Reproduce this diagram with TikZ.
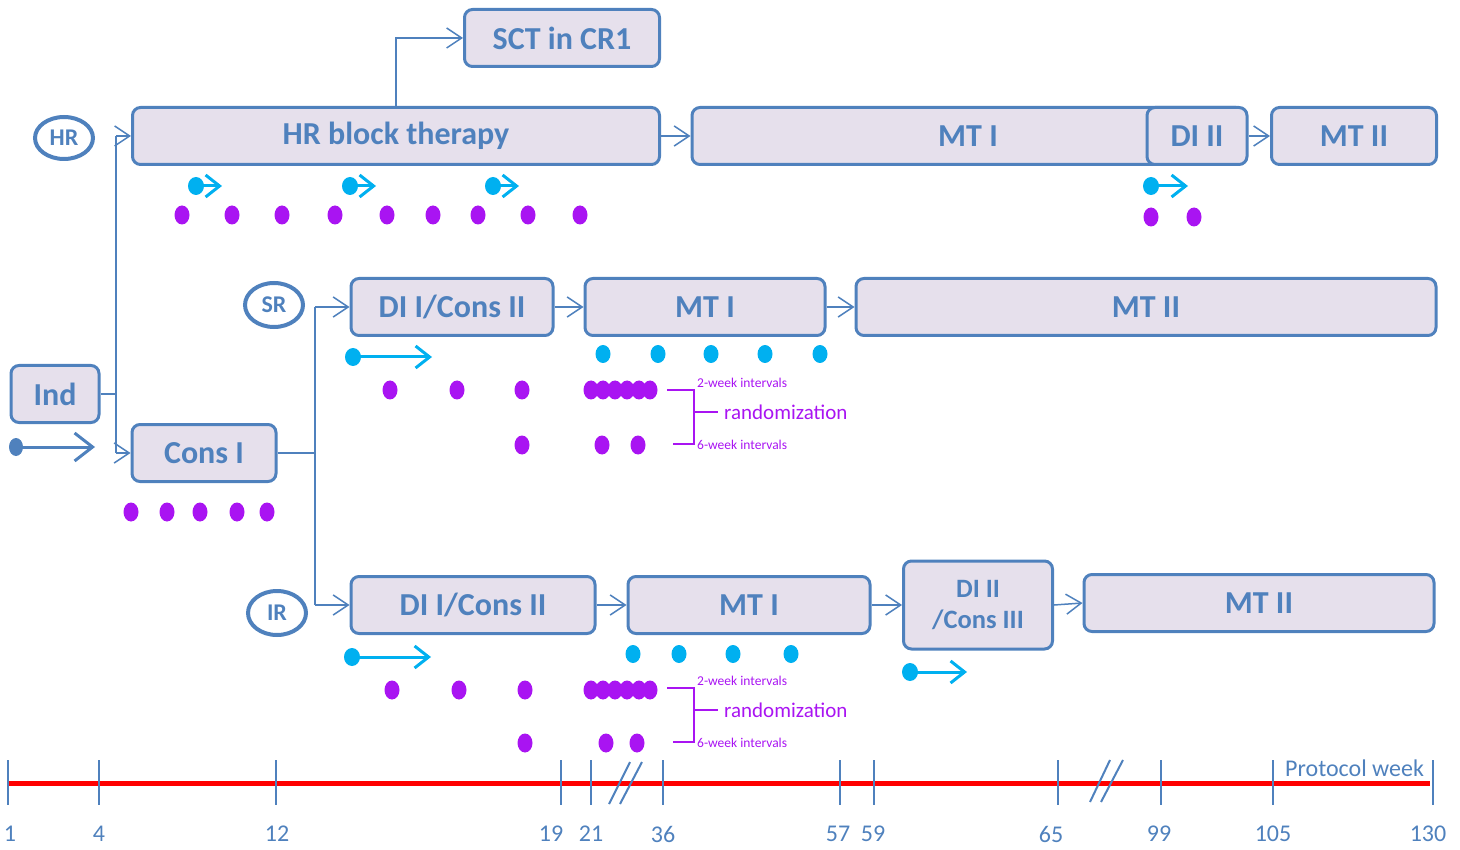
\documentclass[tikz,border=0pt]{standalone}
\usepackage{fontspec}
\setmainfont{Carlito}
\usetikzlibrary{arrows.meta,shapes.geometric}
\definecolor{bxblue}{HTML}{4F81BD}
\definecolor{bxfill}{HTML}{E6E0EC}
\definecolor{dcyan}{HTML}{00B0F0}
\definecolor{dpurple}{HTML}{A914F2}

\begin{document}
\begin{tikzpicture}[x=1pt, y=-1pt,
    phase/.style={draw=bxblue, fill=bxfill, line width=3pt, rounded corners=8pt, text=bxblue,
        font=\fontsize{32}{36}\selectfont\bfseries, minimum height=57pt, inner sep=0pt},
    risk/.style={ellipse, draw=bxblue, line width=4pt, text=bxblue,
        font=\fontsize{24}{28}\selectfont\bfseries, minimum width=58pt, minimum height=42pt, inner sep=0pt},
    conn/.style={draw=bxblue, line width=1.5pt},
    arr/.style={conn, -{Straight Barb[length=15pt,width=20pt]}},
    dosearr/.style={draw=dcyan, line width=3pt, -{Straight Barb[length=14pt,width=22pt]}},
    pdot/.style={fill=dpurple},
    cdot/.style={fill=dcyan},
    brace/.style={draw=dpurple, line width=2pt},
    small/.style={text=dpurple, font=\fontsize{13.5}{15}\selectfont, inner sep=0pt, anchor=west},
    tick/.style={draw=bxblue, line width=2pt},
    wk/.style={text=bxblue, font=\fontsize{24}{28}\selectfont, inner sep=0pt}]
    \useasboundingbox (0,0) rectangle (1460,850);

    \node[phase, minimum width=195pt] (sct) at (562,38) {SCT in CR1};
    \node[phase, minimum width=527pt] (hrb) at (396,136) {HR block therapy};
    \node[phase, minimum width=552pt] (mt1h) at (968,136) {MT I};
    \node[phase, minimum width=100pt] (di2h) at (1197,136) {DI II};
    \node[phase, minimum width=165pt] (mt2h) at (1354,136) {MT II};
    \node[risk] (hr) at (64,138) {HR};

    \node[phase, minimum width=88pt] (ind) at (55,394) {Ind};
    \node[phase, minimum width=144pt] (cons) at (204,453) {Cons I};

    \node[risk, minimum height=44pt] (sr) at (274,305) {SR};
    \node[phase, minimum width=202pt] (di1s) at (452,307) {DI I/Cons II};
    \node[phase, minimum width=240pt] (mt1s) at (705,307) {MT I};
    \node[phase, minimum width=580pt] (mt2s) at (1146,307) {MT II};

    \node[risk, minimum height=44pt] (ir) at (277,613) {IR};
    \node[phase, minimum width=244pt] (di1i) at (473,605) {DI I/Cons II};
    \node[phase, minimum width=242pt] (mt1i) at (749,605) {MT I};
    \node[phase, minimum width=149pt, minimum height=88pt, align=center,
        font=\fontsize{26.5}{31}\selectfont\bfseries] (di2i) at (978,605) {DI II\\/Cons III};
    \node[phase, minimum width=350pt] (mt2i) at (1259,603) {MT II};

    \coordinate (indfork) at (116,394);
    \coordinate (hrfork) at (116,136);
    \coordinate (consfork) at (116,453);
    \coordinate (sctbend) at (396,38);
    \coordinate (mainfork) at (315,453);
    \coordinate (srfork) at (315,307);
    \coordinate (irfork) at (315,605);

    \draw[conn] (ind.east) -- (indfork);
    \draw[conn] (hrfork) -- (consfork);
    \draw[arr] (hrfork) -- (hrb.west);
    \draw[arr] (consfork) -- (cons.west);
    \draw[arr] (hrb.north) -- (sctbend) -- (sct.west);
    \draw[arr] (hrb.east) -- (mt1h.west);
    \draw[arr] (di2h.east) -- (mt2h.west);
    \draw[conn] (cons.east) -- (mainfork);
    \draw[conn] (srfork) -- (irfork);
    \draw[arr] (srfork) -- (di1s.west);
    \draw[arr] (irfork) -- (di1i.west);
    \draw[arr] (di1s.east) -- (mt1s.west);
    \draw[arr] (mt1s.east) -- (mt2s.west);
    \draw[arr] (di1i.east) -- (mt1i.west);
    \draw[arr] (mt1i.east) -- (di2i.west);
    \draw[arr] (di2i.east) -- (mt2i.west);

    \fill[bxblue] (16,447) ellipse (7pt and 9pt);
    \draw[draw=bxblue, line width=3pt, -{Straight Barb[length=18pt,width=28pt]}] (16,447) -- (95,447);
    \foreach \x/\y/\e in {196/186/222, 350/186/376, 493/186/519, 1151/186/1188,
        353/357/432, 352/657/431, 910/672/967} {
        \fill[cdot] (\x,\y) ellipse (8pt and 9pt);
        \draw[dosearr] (\x,\y) -- (\e,\y);
    }

    \foreach \x in {603,658,711,765,820} \fill[cdot] (\x,354) ellipse (7.5pt and 9pt);
    \foreach \x in {633,679,733,791} \fill[cdot] (\x,654) ellipse (7.5pt and 9pt);

    \foreach \x in {182,232,282,335,387,433,478,528,580} \fill[pdot] (\x,215) ellipse (7.5pt and 9.5pt);
    \foreach \x in {1151,1194} \fill[pdot] (\x,217) ellipse (7.5pt and 9.5pt);
    \foreach \x in {131,167,200,237,267} \fill[pdot] (\x,512) ellipse (7.5pt and 9.5pt);
    \foreach \x in {390,457,522,591,603,615,627,639,650} \fill[pdot] (\x,390) ellipse (7.5pt and 9.5pt);
    \foreach \x in {522,602,638} \fill[pdot] (\x,445) ellipse (7.5pt and 9.5pt);
    \foreach \x in {392,459,525,591,603,615,627,639,650} \fill[pdot] (\x,690) ellipse (7.5pt and 9.5pt);
    \foreach \x in {525,606,637} \fill[pdot] (\x,743) ellipse (7.5pt and 9.5pt);

    \foreach \y/\r in {390/rands, 688/randi} {
        \node[small] (\r two) at (697,\y-7) {2-week intervals};
        \node[small] (\r six) at (697,\y+55) {6-week intervals};
        \node[small, font=\fontsize{21}{24}\selectfont] (\r) at (724,\y+22) {randomization};
        \draw[brace] (667,\y) -- (694,\y) -- (694,\y+54) -- (673,\y+54);
        \draw[brace] (694,\y+22) -- ([xshift=-6pt]\r.west);
    }

    \draw[red, line width=5pt] (8,783) -- (1430,783);
    \foreach \x in {8,99,276,561,591,663,840,874,1058,1161,1273,1433}
        \draw[tick] (\x,760) -- (\x,805);
    \draw[tick] (609,804) -- (630,762);
    \draw[tick] (620,804) -- (642,762);
    \draw[tick] (1090,802) -- (1110,760);
    \draw[tick] (1101,802) -- (1123,760);
    \foreach \x/\l in {10/1, 99/4, 277/12, 551/19, 591/21, 663/36, 838/57, 873/59,
        1051/65, 1159/99, 1273/105, 1428/130}
        \node[wk] (wk\l) at (\x,834) {\l};
    \node[wk, anchor=west] (pweek) at (1285,768) {Protocol week};
\end{tikzpicture}
\end{document}
